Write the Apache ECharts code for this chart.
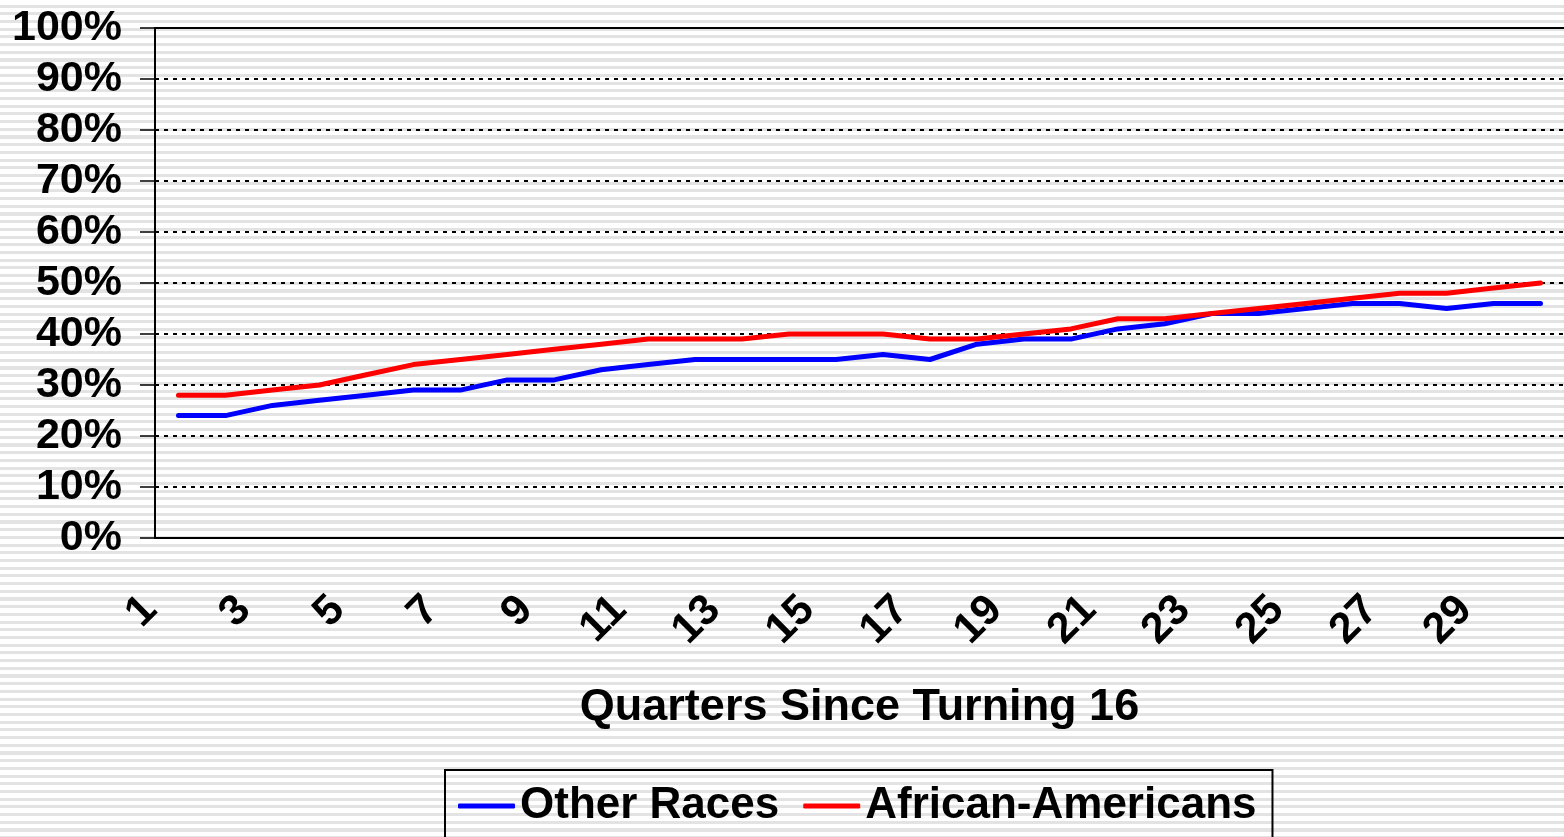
<!DOCTYPE html>
<html>

	<head>
		<meta charset="utf-8" />
		<title>Quarters Since Turning 16</title>
		<script type="text/javascript" src="https://cdn.jsdelivr.net/npm/echarts@6/dist/echarts.min.js"></script>
		<style>
			* {
				margin: 0;
				padding: 0;
			}

			body,
			html {
				width: 100%;
				height: 100%;
				overflow: hidden;
				/* striped backdrop, like the pattern fill of the original */
				background: repeating-linear-gradient(to bottom, #ffffff 0px, #ffffff 4.6px, #e3e3e3 4.6px, #e3e3e3 7.7px);
			}

			#main {
				width: 1564px;
				height: 837px;
			}
		</style>
	</head>

	<body>
		<div id="main"></div>
	</body>
	<script>
		// categories: quarters 1..30
		var quarters = ['1', '2', '3', '4', '5', '6', '7', '8', '9', '10',
			'11', '12', '13', '14', '15', '16', '17', '18', '19', '20',
			'21', '22', '23', '24', '25', '26', '27', '28', '29', '30'];

		// values in percent
		var otherRaces = [24, 24, 26, 27, 28, 29, 29, 31, 31, 33,
			34, 35, 35, 35, 35, 36, 35, 38, 39, 39,
			41, 42, 44, 44, 45, 46, 46, 45, 46, 46];
		var africanAmericans = [28, 28, 29, 30, 32, 34, 35, 36, 37, 38,
			39, 39, 39, 40, 40, 40, 39, 39, 40, 41,
			43, 43, 44, 45, 46, 47, 48, 48, 49, 50];

		var seriesNames = ['Other Races', 'African-Americans'];
		var axisTitle = 'Quarters Since Turning 16';

		var font = '"Liberation Sans", Arial, sans-serif';

		var myChart = echarts.init(document.getElementById('main'));
		myChart.setOption({
			color: ['#0000ff', '#ff0000'],
			animation: false,
			textStyle: {
				fontFamily: font
			},
			grid: {
				left: 155,
				top: 28,
				right: 0,
				bottom: 299
			},
			legend: {
				data: seriesNames,
				left: 445,
				top: 770,
				icon: 'roundRect',
				itemWidth: 57,
				itemHeight: 5,
				itemGap: 24,
				padding: [14, 16, 40, 13],
				borderColor: '#000',
				borderWidth: 2,
				textStyle: {
					fontFamily: font,
					fontSize: 44,
					fontWeight: 'bold',
					color: '#000'
				}
			},
			xAxis: [{
				type: 'category',
				data: quarters,
				boundaryGap: true,
				name: axisTitle,
				nameLocation: 'middle',
				nameGap: 147,
				nameTextStyle: {
					fontFamily: font,
					fontSize: 45,
					fontWeight: 'bold',
					color: '#000'
				},
				axisLine: {
					lineStyle: { color: '#000', width: 2 }
				},
				axisTick: {
					interval: 0,
					length: 15,
					lineStyle: { color: '#000', width: 1.5 }
				},
				axisLabel: {
					interval: 1,
					rotate: 45,
					margin: 37,
					padding: [0, 40, 0, 0],
					fontFamily: font,
					fontSize: 43,
					fontWeight: 'bold',
					color: '#000'
				}
			}, {
				// top border of the plot area
				type: 'category',
				data: quarters,
				position: 'top',
				axisLine: {
					show: true,
					lineStyle: { color: '#000', width: 2 }
				},
				axisTick: { show: false },
				axisLabel: { show: false }
			}],
			yAxis: {
				type: 'value',
				min: 0,
				max: 100,
				interval: 10,
				axisLine: {
					show: true,
					lineStyle: { color: '#000', width: 2 }
				},
				axisTick: {
					show: true,
					length: 15,
					lineStyle: { color: '#000', width: 1.5 }
				},
				axisLabel: {
					margin: 33,
					formatter: '{value}%',
					fontFamily: font,
					fontSize: 43,
					fontWeight: 'bold',
					color: '#000'
				},
				splitLine: {
					lineStyle: { color: '#000', width: 2, type: [4, 5] }
				}
			},
			series: [{
				name: seriesNames[0],
				type: 'line',
				data: otherRaces,
				symbol: 'none',
				lineStyle: { width: 5, cap: 'round', join: 'round' }
			}, {
				name: seriesNames[1],
				type: 'line',
				data: africanAmericans,
				symbol: 'none',
				lineStyle: { width: 5, cap: 'round', join: 'round' }
			}]
		});
	</script>

</html>
